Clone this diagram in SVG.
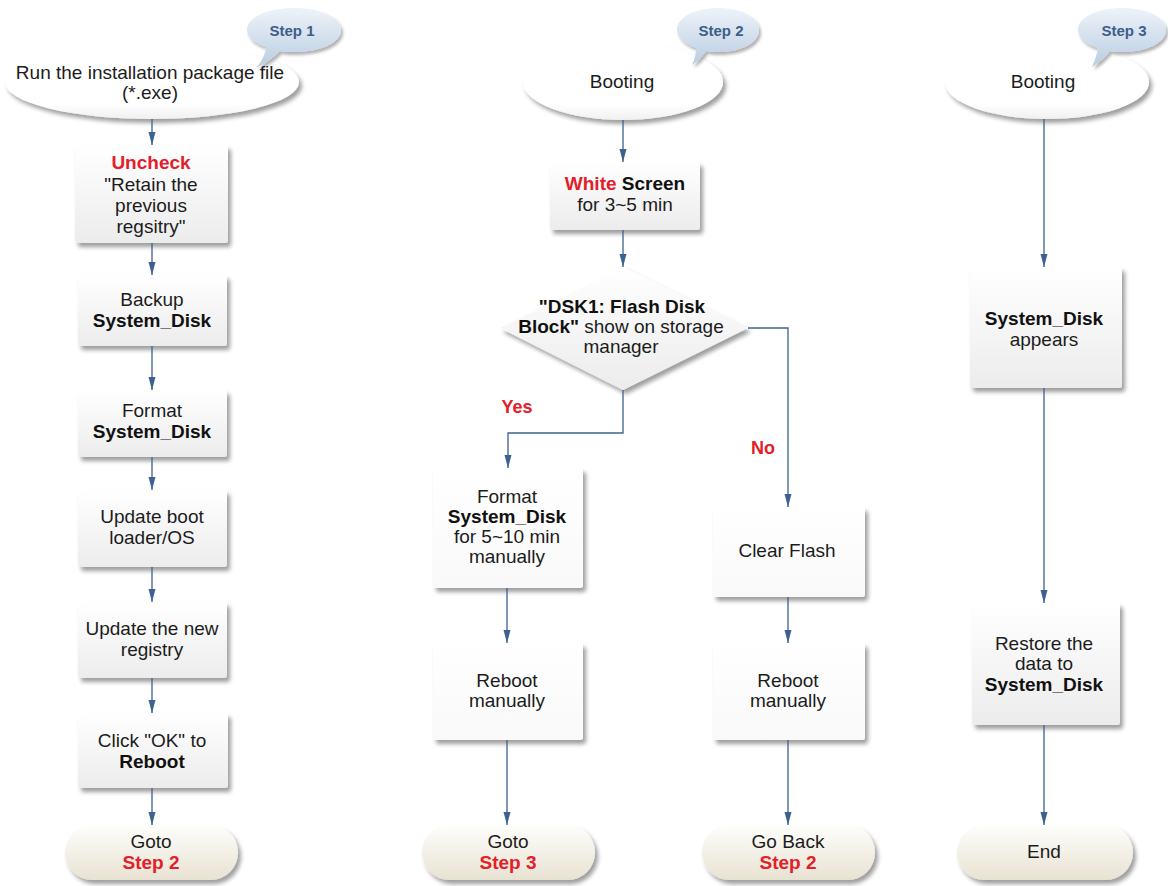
<svg xmlns="http://www.w3.org/2000/svg" width="1168" height="886" viewBox="0 0 1168 886">
<defs>
<filter id="sh" x="-20%" y="-20%" width="140%" height="150%">
<feDropShadow dx="3" dy="4" stdDeviation="2.2" flood-color="#000" flood-opacity="0.38"/>
</filter>
<filter id="shs" x="-20%" y="-20%" width="140%" height="150%">
<feDropShadow dx="2" dy="3" stdDeviation="1.8" flood-color="#000" flood-opacity="0.3"/>
</filter>
<linearGradient id="gBox" x1="0" y1="0" x2="0" y2="1">
<stop offset="0" stop-color="#ffffff"/>
<stop offset="1" stop-color="#ececec"/>
</linearGradient>
<linearGradient id="gWhite" x1="0" y1="0" x2="0" y2="1">
<stop offset="0" stop-color="#ffffff"/>
<stop offset="1" stop-color="#f9f9f9"/>
</linearGradient>
<linearGradient id="gPill" x1="0" y1="0" x2="0" y2="1">
<stop offset="0" stop-color="#fefefc"/>
<stop offset="1" stop-color="#e8e2d2"/>
</linearGradient>
<linearGradient id="gEll" x1="0" y1="0" x2="0" y2="1">
<stop offset="0" stop-color="#ffffff"/>
<stop offset="0.8" stop-color="#ffffff"/>
<stop offset="1" stop-color="#f0f0f0"/>
</linearGradient>
<linearGradient id="gBub" x1="0" y1="0" x2="0" y2="1">
<stop offset="0" stop-color="#eef3f9"/>
<stop offset="1" stop-color="#b9cde2"/>
</linearGradient>
<marker id="ah" markerUnits="userSpaceOnUse" markerWidth="14" markerHeight="8" refX="13" refY="4" orient="auto">
<path d="M0,0.5 L13,4 L0,7.5 Z" fill="#3c6190"/>
</marker>
<style>
text{font-family:"Liberation Sans",Arial,sans-serif;font-size:19px;fill:#1c1c1c;text-anchor:middle}
.b{font-weight:bold}
.r{fill:#e3202a;font-weight:bold}
.k{font-weight:bold;fill:#111}
.st{font-size:15px;font-weight:bold;fill:#3c5e8c}
.yn{font-size:18px;font-weight:bold;fill:#e3202a}
.box{fill:url(#gBox);filter:url(#sh)}
.wbox{fill:url(#gWhite);filter:url(#sh)}
.pill{fill:url(#gPill);filter:url(#sh)}
.ell{fill:url(#gEll);filter:url(#sh)}
.bub{fill:url(#gBub);filter:url(#shs)}
.c{fill:none;stroke:#3c6190;stroke-width:1.3;marker-end:url(#ah)}
</style>
</defs>
<rect width="1168" height="886" fill="#ffffff"/>

<!-- Column 1 -->
<g id="start1">
<ellipse class="ell" cx="152" cy="82" rx="147" ry="37"/>
<text x="150" y="79">Run the installation package file</text>
<text x="150" y="99">(*.exe)</text>
</g>
<g id="step1">
<path class="bub" d="M294,8 C320,8 341,17 341,30 C341,43 320,52 294,52 C289,52 284,52 280,51 C274,57 266,63 256,68 C262,61 265,55 266,47 C254,43 247,37 247,30 C247,17 268,8 294,8 Z"/>
<text class="st" x="292" y="36">Step 1</text>
</g>
<g id="uncheck">
<rect class="box" x="75" y="145" width="153" height="98" rx="3"/>
<text class="r" x="151" y="169">Uncheck</text>
<text x="151" y="191">"Retain the</text>
<text x="151" y="212">previous</text>
<text x="151" y="233">regsitry"</text>
</g>
<g id="backup">
<rect class="box" x="78" y="275" width="149" height="71" rx="3"/>
<text x="152" y="306">Backup</text>
<text class="k" x="152" y="327">System_Disk</text>
</g>
<g id="format1">
<rect class="box" x="78" y="390" width="149" height="67" rx="3"/>
<text x="152" y="417">Format</text>
<text class="k" x="152" y="438">System_Disk</text>
</g>
<g id="updateboot">
<rect class="box" x="78" y="490" width="149" height="77" rx="3"/>
<text x="152" y="523">Update boot</text>
<text x="152" y="544">loader/OS</text>
</g>
<g id="updatereg">
<rect class="box" x="78" y="602" width="149" height="76" rx="3"/>
<text x="152" y="635">Update the new</text>
<text x="152" y="656">registry</text>
</g>
<g id="clickok">
<rect class="box" x="78" y="713" width="150" height="75" rx="3"/>
<text x="152" y="747">Click "OK" to</text>
<text class="k" x="152" y="768">Reboot</text>
</g>
<g id="goto2">
<rect class="pill" x="65" y="825" width="173" height="55" rx="27.5"/>
<text x="151" y="848">Goto</text>
<text class="r" x="151" y="869">Step 2</text>
</g>

<!-- Column 2 -->
<g id="boot2">
<ellipse class="ell" cx="623" cy="82" rx="100" ry="38"/>
<text x="622" y="88">Booting</text>
</g>
<g id="step2">
<path class="bub" d="M718,8 C741,8 759,17 759,30 C759,43 741,52 718,52 C714,52 710,52 706,51 C702,57 698,61 692,65 C695,59 696,54 696,48 C685,44 677,37 677,30 C677,17 695,8 718,8 Z"/>
<text class="st" x="721" y="36">Step 2</text>
</g>
<g id="white">
<rect class="box" x="550" y="162" width="150" height="68" rx="3"/>
<text x="625" y="190"><tspan class="r">White</tspan> <tspan class="k">Screen</tspan></text>
<text x="625" y="211">for 3~5 min</text>
</g>
<g id="decision">
<polygon class="box" points="623,267 748,328 623,390 500,328"/>
<text class="k" x="622" y="313">"DSK1: Flash Disk</text>
<text x="621" y="333"><tspan class="k">Block"</tspan> show on storage</text>
<text x="621" y="353">manager</text>
</g>
<g id="format2">
<rect class="wbox" x="433" y="468" width="150" height="120" rx="3"/>
<text x="507" y="503">Format</text>
<text class="k" x="507" y="523">System_Disk</text>
<text x="507" y="543">for 5~10 min</text>
<text x="507" y="563">manually</text>
</g>
<g id="clearflash">
<rect class="wbox" x="713" y="507" width="152" height="90" rx="3"/>
<text x="787" y="557">Clear Flash</text>
</g>
<g id="reboot1">
<rect class="wbox" x="433" y="643" width="150" height="97" rx="3"/>
<text x="507" y="687">Reboot</text>
<text x="507" y="707">manually</text>
</g>
<g id="reboot2">
<rect class="wbox" x="713" y="643" width="152" height="97" rx="3"/>
<text x="788" y="687">Reboot</text>
<text x="788" y="707">manually</text>
</g>
<g id="goto3">
<rect class="pill" x="422" y="825" width="173" height="55" rx="27.5"/>
<text x="508" y="848">Goto</text>
<text class="r" x="508" y="869">Step 3</text>
</g>
<g id="goback2">
<rect class="pill" x="702" y="825" width="173" height="55" rx="27.5"/>
<text x="788" y="848">Go Back</text>
<text class="r" x="788" y="869">Step 2</text>
</g>

<!-- Column 3 -->
<g id="boot3">
<ellipse class="ell" cx="1047" cy="82" rx="102" ry="37"/>
<text x="1043" y="88">Booting</text>
</g>
<g id="step3">
<path class="bub" d="M1122,8 C1146,8 1166,17 1166,30 C1166,43 1146,52 1122,52 C1118,52 1114,52 1110,51 C1105,57 1100,62 1092,67 C1095,60 1097,54 1098,48 C1085,44 1078,37 1078,30 C1078,17 1098,8 1122,8 Z"/>
<text class="st" x="1124" y="36">Step 3</text>
</g>
<g id="appears">
<rect class="box" x="970" y="267" width="152" height="121" rx="3"/>
<text class="k" x="1044" y="325">System_Disk</text>
<text x="1044" y="346">appears</text>
</g>
<g id="restore">
<rect class="box" x="972" y="603" width="148" height="122" rx="3"/>
<text x="1044" y="650">Restore the</text>
<text x="1044" y="670">data to</text>
<text class="k" x="1044" y="691">System_Disk</text>
</g>
<g id="end">
<rect class="pill" x="957" y="825" width="176" height="55" rx="27.5"/>
<text x="1044" y="858">End</text>
</g>

<!-- Connectors -->
<g id="connectors">
<line class="c" x1="152" y1="119" x2="152" y2="145"/>
<line class="c" x1="152" y1="243" x2="152" y2="275"/>
<line class="c" x1="152" y1="346" x2="152" y2="390"/>
<line class="c" x1="152" y1="457" x2="152" y2="490"/>
<line class="c" x1="152" y1="567" x2="152" y2="602"/>
<line class="c" x1="152" y1="678" x2="152" y2="713"/>
<line class="c" x1="152" y1="788" x2="152" y2="825"/>
<line class="c" x1="623" y1="120" x2="623" y2="162"/>
<line class="c" x1="623" y1="230" x2="623" y2="267"/>
<polyline class="c" points="623,390 623,433 508,433 508,468"/>
<polyline class="c" points="748,328 788,328 788,507"/>
<line class="c" x1="507" y1="588" x2="507" y2="643"/>
<line class="c" x1="788" y1="597" x2="788" y2="643"/>
<line class="c" x1="507" y1="740" x2="507" y2="825"/>
<line class="c" x1="788" y1="740" x2="788" y2="825"/>
<line class="c" x1="1044" y1="119" x2="1044" y2="267"/>
<line class="c" x1="1044" y1="388" x2="1044" y2="603"/>
<line class="c" x1="1044" y1="725" x2="1044" y2="825"/>
<text class="yn" x="517" y="413">Yes</text>
<text class="yn" x="763" y="454">No</text>
</g>
</svg>
